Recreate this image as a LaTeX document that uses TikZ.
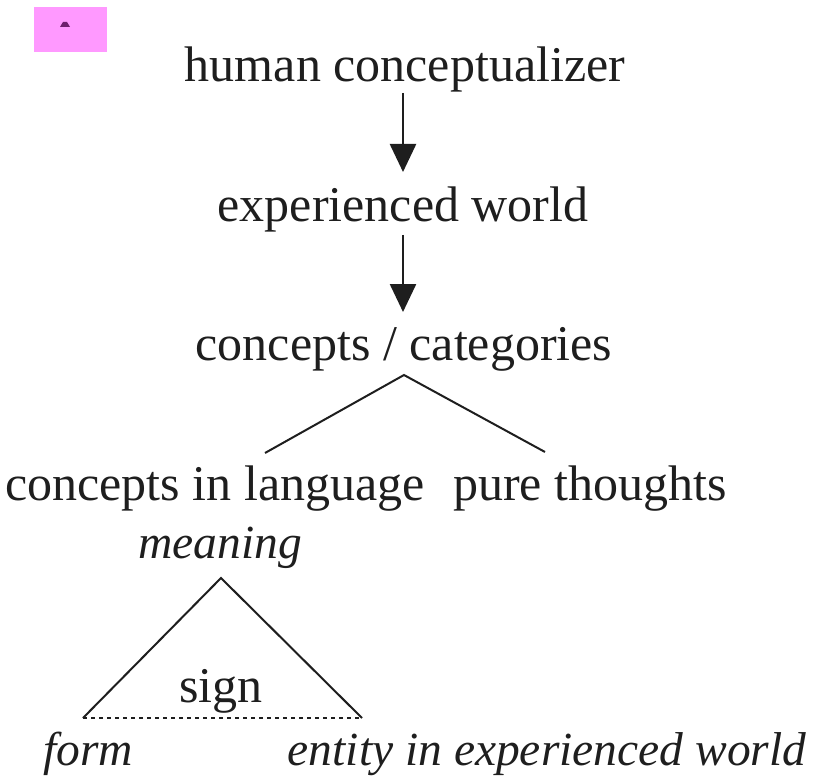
\documentclass[tikz,border=0pt]{standalone}
\usepackage{fontspec}
\setmainfont{Liberation Serif}
\usetikzlibrary{arrows.meta}
\definecolor{pinkbox}{RGB}{255,153,255}
\definecolor{pinkmark}{RGB}{110,30,110}
\definecolor{ink}{RGB}{30,30,30}
\tikzset{
  lbl/.style={inner sep=0pt, anchor=base, text=ink, font=\fontsize{50}{56}\selectfont},
  ilbl/.style={lbl, font=\fontsize{47.5}{54}\selectfont\itshape},
  flow/.style={line width=2.5pt, draw=ink, -{Triangle[width=26pt,length=28pt]}},
  branch/.style={line width=2pt, draw=ink},
  signline/.style={line width=2.2pt, draw=ink, dash pattern=on 4pt off 4pt}
}
\begin{document}
\begin{tikzpicture}[x=1pt,y=-1pt]
\useasboundingbox (0,0) rectangle (822,778);
% pink marker box
\fill[pinkbox] (34,7) rectangle (107,52);
\fill[pinkmark] (60,27) -- (70,27) -- (67,22) -- (63,22) -- cycle;

\node[lbl] (hc) at (405,82) {human conceptualizer};
\node[lbl] (ew) at (403,222) {experienced world};
\node[lbl] (cc) at (404,360) {concepts / categories};
\node[lbl] (cil) at (215,500) {concepts in language};
\node[lbl] (pt) at (590,500) {pure thoughts};
\node[ilbl] (mn) at (220,558) {meaning};
\node[lbl] (sg) at (221,702) {sign};
\node[ilbl] (fm) at (88,765) {form};
\node[ilbl] (en) at (547,765) {entity in experienced world};

\coordinate (ccapex) at (404,375);
\coordinate (cilend) at (265,453);
\coordinate (ptend) at (545,452);
\coordinate (mnapex) at (221,578);
\coordinate (fmend) at (83,718);
\coordinate (enend) at (362,718);

\draw[flow] (403,93) -- (403,172);
\draw[flow] (403,235) -- (403,312);
\draw[branch] (cilend) -- (ccapex) -- (ptend);
\draw[branch] (fmend) -- (mnapex) -- (enend);
\draw[signline] (fmend) -- (enend);
\end{tikzpicture}
\end{document}
